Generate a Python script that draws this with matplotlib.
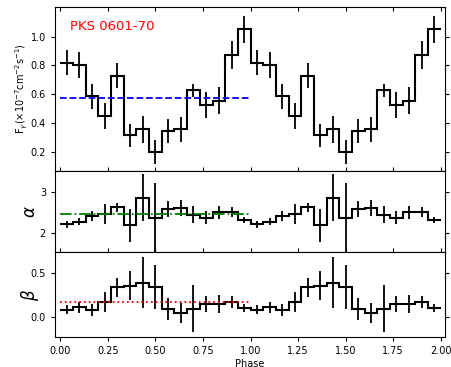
import numpy as np
import matplotlib
matplotlib.use("Agg")
import matplotlib.pyplot as plt
import matplotlib.lines as mlines

# ---- data (one cycle, 15 phase bins; plotted twice) ----
n_bins = 15
flux = [0.82, 0.80, 0.587, 0.45, 0.727, 0.316, 0.356, 0.20, 0.344, 0.356,
        0.627, 0.525, 0.555, 0.873, 1.05]
flux_err = [0.09, 0.09, 0.087, 0.09, 0.087, 0.08, 0.095, 0.083, 0.08, 0.085,
            0.046, 0.088, 0.096, 0.10, 0.093]
alpha = [2.21, 2.28, 2.42, 2.47, 2.63, 2.19, 2.86, 2.36, 2.58, 2.61,
         2.45, 2.37, 2.51, 2.51, 2.32]
alpha_err = [0.08, 0.09, 0.12, 0.24, 0.11, 0.40, 0.57, 0.86, 0.20, 0.19,
             0.20, 0.16, 0.16, 0.13, 0.07]
beta = [0.085, 0.11, 0.077, 0.17, 0.34, 0.36, 0.39, 0.345, 0.095, 0.045,
        0.095, 0.145, 0.15, 0.17, 0.10]
beta_err = [0.05, 0.06, 0.07, 0.115, 0.11, 0.17, 0.29, 0.25, 0.125, 0.115,
            0.27, 0.09, 0.10, 0.07, 0.045]
flux_mean = 0.571
alpha_mean = 2.455
beta_mean = 0.177
n_cycles = 2
source_name = "PKS 0601-70"

# ---- figure ----
W, H = 451, 367
fig = plt.figure(figsize=(W / 100, H / 100), dpi=100)

def rect(l, t, r, b):
    return [l / W, 1 - b / H, (r - l) / W, (b - t) / H]

ax1 = fig.add_axes(rect(55, 7.3, 445, 170.7))
ax2 = fig.add_axes(rect(55, 170.7, 445, 252.3), sharex=ax1)
ax3 = fig.add_axes(rect(55, 252.3, 445, 336.7), sharex=ax1)

edges = np.linspace(0, n_cycles, n_bins * n_cycles + 1)
centers = 0.5 * (edges[:-1] + edges[1:])

panels = [
    (ax1, flux, flux_err, flux_mean, 'b', '--'),
    (ax2, alpha, alpha_err, alpha_mean, 'g', '-.'),
    (ax3, beta, beta_err, beta_mean, 'r', ':'),
]
for ax, vals, errs, mean, col, ls in panels:
    v = np.tile(vals, n_cycles)
    e = np.tile(errs, n_cycles)
    ax.stairs(v, edges, color='k', lw=1.5, baseline=None)
    ax.errorbar(centers, v, yerr=e, fmt='none', ecolor='k', elinewidth=1.3,
                capsize=0)
    ax.plot([0, 1], [mean, mean], color=col, ls=ls, lw=1.3)

ax1.set_xlim(-0.028, 2.022)
ax1.set_ylim(0.068, 1.204)
ax2.set_ylim(1.53, 3.52)
ax3.set_ylim(-0.224, 0.739)

ax1.set_yticks([0.2, 0.4, 0.6, 0.8, 1.0])
ax2.set_yticks([2, 3])
ax3.set_yticks([0.0, 0.5])
ax3.set_xticks([0, 0.25, 0.5, 0.75, 1.0, 1.25, 1.5, 1.75, 2.0])

fs = 7
for ax in (ax1, ax2, ax3):
    ax.tick_params(axis='both', labelsize=fs, length=3, width=0.8,
                   direction='out', right=True, top=True)
ax1.tick_params(axis='x', labelbottom=False)
ax2.tick_params(axis='x', labelbottom=False, bottom=False)

ax3.xaxis.set_major_formatter(matplotlib.ticker.FormatStrFormatter('%.2f'))
ax1.yaxis.set_major_formatter(matplotlib.ticker.FormatStrFormatter('%.1f'))
ax2.yaxis.set_major_formatter(matplotlib.ticker.FormatStrFormatter('%d'))
ax3.yaxis.set_major_formatter(matplotlib.ticker.FormatStrFormatter('%.1f'))

# flux panel: top ticks point inward
fig.canvas.draw()
for t in ax1.xaxis.get_major_ticks():
    t.tick2line.set_marker(mlines.TICKDOWN)

ax1.set_ylabel(r'F$_\gamma$(×10$^{-7}$cm$^{-2}$s$^{-1}$)', fontsize=fs)
ax2.set_ylabel(r'$\alpha$', fontsize=12)
ax3.set_ylabel(r'$\beta$', fontsize=12)
ax1.yaxis.set_label_coords(-0.085, 0.5)
ax2.yaxis.set_label_coords(-0.063, 0.5)
ax3.yaxis.set_label_coords(-0.063, 0.5)
ax1.yaxis.label.set_va('center')
ax2.yaxis.label.set_va('center')
ax3.yaxis.label.set_va('center')
ax3.set_xlabel('Phase', fontsize=fs, labelpad=2)

ax1.text(0.038, 0.882, source_name, color='red', fontsize=9.5,
         transform=ax1.transAxes, va='center', ha='left')

fig.savefig('out.png', dpi=100)
